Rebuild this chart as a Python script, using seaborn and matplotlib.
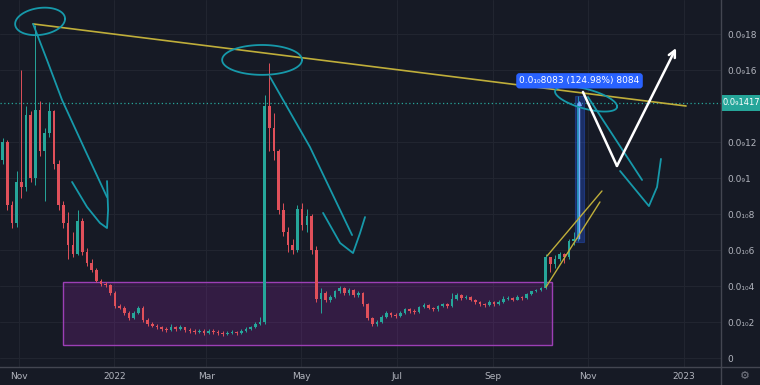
import numpy as np
import pandas as pd
import matplotlib
matplotlib.use("Agg")
import matplotlib.pyplot as plt
import matplotlib.dates as mdates
from matplotlib.lines import Line2D
from matplotlib.patches import Rectangle
import seaborn as sns

# 3-day candles, values in units of 1e-11
start = pd.Timestamp("2021-10-20")
first_open = 11.0
closes = [12.0, 8.5, 7.5, 9.8, 9.5, 13.5, 10.0, 13.8, 11.5, 12.5,
          13.7, 10.8, 8.5, 7.5, 6.3, 5.8, 7.6, 5.9, 5.3, 4.9,
          4.3, 4.1, 4.05, 3.6, 2.9, 2.8, 2.5, 2.2, 2.5, 2.8,
          2.1, 1.9, 1.8, 1.7, 1.6, 1.55, 1.75, 1.6, 1.7, 1.55,
          1.5, 1.45, 1.5, 1.4, 1.5, 1.45, 1.4, 1.35, 1.4, 1.45,
          1.4, 1.5, 1.6, 1.7, 1.9, 2.0, 14.0, 12.8, 11.5, 8.2,
          7.0, 6.3, 6.0, 8.3, 7.4, 7.9, 6.0, 3.3, 3.6, 3.2,
          3.4, 3.7, 3.9, 3.6, 3.8, 3.5, 3.6, 3.0, 2.2, 1.9,
          2.0, 2.3, 2.5, 2.4, 2.35, 2.5, 2.75, 2.6, 2.55, 2.85,
          2.95, 2.8, 2.7, 2.9, 3.0, 2.9, 3.3, 3.5, 3.35, 3.4,
          3.25, 3.1, 3.0, 2.95, 3.1, 3.0, 3.1, 3.3, 3.35, 3.25,
          3.4, 3.35, 3.55, 3.7, 3.8, 3.9, 5.6, 5.2, 5.5, 5.8,
          5.6, 6.5, 6.6, 14.17]
highs = [12.2, 12.1, 8.7, 10.4, 16.0, 14.0, 13.7, 18.5, 14.3, 12.8,
         14.2, 13.8, 11.0, 8.7, 8.1, 7.0, 8.2, 7.8, 6.1, 5.5,
         5.0, 4.4, 4.2, 4.1, 3.7, 3.0, 2.9, 2.6, 2.6, 2.9,
         2.9, 2.2, 2.0, 1.9, 1.8, 1.7, 1.9, 1.8, 1.85, 1.75,
         1.65, 1.6, 1.6, 1.6, 1.6, 1.6, 1.55, 1.5, 1.5, 1.55,
         1.5, 1.6, 1.7, 1.8, 2.0, 2.3, 14.6, 16.4, 13.6, 11.6,
         8.6, 7.3, 6.6, 8.5, 8.6, 8.3, 8.0, 6.2, 3.9, 3.7,
         3.5, 3.8, 4.0, 3.95, 3.9, 3.85, 3.7, 3.65, 3.05, 2.3,
         2.1, 2.4, 2.6, 2.55, 2.5, 2.6, 2.8, 2.8, 2.7, 2.9,
         3.05, 3.0, 2.85, 2.95, 3.05, 3.05, 3.6, 3.6, 3.55, 3.5,
         3.45, 3.3, 3.15, 3.05, 3.2, 3.15, 3.2, 3.45, 3.45, 3.4,
         3.5, 3.45, 3.6, 3.75, 3.85, 3.95, 5.8, 5.6, 5.7, 5.9,
         5.85, 6.6, 7.0, 14.55]
lows = [10.8, 8.2, 7.2, 7.3, 8.9, 9.3, 9.8, 9.6, 11.2, 8.7,
        12.3, 10.5, 8.2, 7.2, 5.5, 5.6, 5.7, 5.7, 5.1, 4.8,
        4.2, 4.0, 3.95, 3.5, 2.8, 2.7, 2.4, 2.1, 2.15, 2.45,
        2.0, 1.8, 1.7, 1.6, 1.5, 1.45, 1.5, 1.5, 1.55, 1.45,
        1.4, 1.35, 1.4, 1.3, 1.35, 1.35, 1.3, 1.25, 1.3, 1.35,
        1.3, 1.35, 1.45, 1.55, 1.65, 1.85, 1.9, 11.5, 11.0, 8.0,
        6.8, 5.9, 5.8, 5.9, 7.1, 7.0, 5.8, 3.1, 2.5, 3.1,
        3.1, 3.35, 3.6, 3.5, 3.5, 3.4, 3.4, 2.9, 2.1, 1.8,
        1.8, 1.95, 2.25, 2.3, 2.25, 2.3, 2.45, 2.5, 2.45, 2.5,
        2.8, 2.7, 2.6, 2.6, 2.85, 2.8, 2.85, 3.25, 3.25, 3.3,
        3.15, 3.0, 2.9, 2.85, 2.9, 2.9, 2.95, 3.05, 3.2, 3.15,
        3.2, 3.25, 3.3, 3.5, 3.65, 3.75, 3.85, 4.8, 5.0, 5.4,
        5.3, 5.5, 6.3, 6.5]

tick_dates = ["2021-11-01", "2022-01-01", "2022-03-01", "2022-05-01",
              "2022-07-01", "2022-09-01", "2022-11-01", "2023-01-01"]
tick_labels = ["Nov", "2022", "Mar", "May", "Jul", "Sep", "Nov", "2023"]
price_ticks = [0, 2, 4, 6, 8, 10, 12, 16, 18]
price_labels = ["0", "0.0\u2081\u20802", "0.0\u2081\u20804", "0.0\u2081\u20806",
                "0.0\u2081\u20808", "0.0\u20891", "0.0\u208912",
                "0.0\u208916", "0.0\u208918"]
last_price = 14.17
last_label = "0.0\u20891417"
measure_label = "0.0\u2081\u20808083 (124.98%) 8084"

# drawings: (days after 2021-11-01, value)
trend_line = [(9.0, 18.56), (427.6, 14.0)]
channel_upper = [(338.5, 5.67), (373.7, 9.28)]
channel_lower = [(337.8, 3.94), (372.4, 8.67)]
purple_box = (28.2, 341.7, 0.72, 4.22)
measure_box = (356.4, 362.2, 6.467, 14.55)
teal_strokes = [
    [(9.0, 18.56), (17.9, 16.56), (27.6, 14.33), (42.3, 11.56), (56.4, 8.94)],
    [(34.0, 9.78), (43.6, 8.39), (51.9, 7.5), (56.4, 7.22), (57.1, 8.22), (56.4, 9.83)],
    [(160.9, 15.61), (186.5, 11.72), (213.5, 6.83)],
    [(194.9, 8.06), (205.8, 6.39), (214.1, 5.83), (218.6, 6.94), (221.8, 7.83)],
    [(364.7, 14.5), (399.4, 9.89)],
    [(385.3, 10.39), (403.8, 8.44), (409.0, 9.5), (411.5, 11.06)],
]
# ellipses: centre day, centre value, half width (days), half height, tilt
teal_loops = [(13.5, 18.7, 16.0, 0.75, 0.009),
              (155.8, 16.56, 25.6, 0.83, 0.0),
              (363.5, 14.39, 19.9, 0.56, -0.021)]
white_path = [(361.5, 14.78), (383.3, 10.67), (421.2, 17.22)]

sns.set_theme(style="dark", rc={
    "figure.facecolor": "#161a25", "axes.facecolor": "#161a25",
    "axes.edgecolor": "#363a45", "grid.color": "#222631",
    "text.color": "#b2b5be", "xtick.color": "#b2b5be", "ytick.color": "#b2b5be"})
plt.rcParams["font.family"] = ["DejaVu Sans"]

base = mdates.date2num(pd.Timestamp("2021-11-01"))
def X(d):
    return base + d

n = len(closes)
df = pd.DataFrame({
    "date": [start + pd.Timedelta(days=3 * i + 1.5) for i in range(n)],
    "open": [first_open] + closes[:-1],
    "close": closes, "high": highs, "low": lows})
df["x"] = mdates.date2num(df["date"])
df["up"] = df["close"] >= df["open"]

fig = plt.figure(figsize=(7.6, 3.85), dpi=100)
ax = fig.add_axes([0, 18 / 385, 721 / 760, 367 / 385])

# purple range box
x0, x1, y0, y1 = purple_box
ax.add_patch(Rectangle((X(x0), y0), x1 - x0, y1 - y0, fc="#9c27b0", alpha=0.22,
                       ec="none", zorder=1))
ax.add_patch(Rectangle((X(x0), y0), x1 - x0, y1 - y0, fc="none", ec="#9c3fb5",
                       lw=1.0, zorder=1))

# candles
green, red = "#26a69a", "#e0505a"
cols = np.where(df["up"], green, red)
ax.vlines(df["x"], df["low"], df["high"], colors=cols, lw=0.7, zorder=3)
body_lo = df[["open", "close"]].min(axis=1)
body_h = (df["close"] - df["open"]).abs().clip(lower=0.06)
ax.bar(df["x"], body_h, bottom=body_lo, width=1.7, color=cols, lw=0, zorder=3)

# last price line
ax.axhline(last_price, color=green, ls=(0, (1, 2)), lw=0.9, zorder=2)

# measure tool
mx0, mx1, my0, my1 = measure_box
ax.add_patch(Rectangle((X(mx0), my0), mx1 - mx0, my1 - my0, fc="#2962ff",
                       alpha=0.3, ec="#2962ff", lw=0.8, zorder=4))
ax.annotate("", xy=(X((mx0 + mx1) / 2), my1 - 0.1), xytext=(X((mx0 + mx1) / 2), my0),
            arrowprops=dict(arrowstyle="-|>", color="#7fa6ff", lw=1.0,
                            mutation_scale=6), zorder=5)
ax.text(X((mx0 + mx1) / 2), my1 + 0.85, measure_label, ha="center", va="center",
        fontsize=6.5, color="white", zorder=8,
        bbox=dict(boxstyle="round,pad=0.35", fc="#2962ff", ec="none"))

# trend and channel lines
for seg, lw in [(trend_line, 1.2), (channel_upper, 1.0), (channel_lower, 1.0)]:
    ax.plot([X(p[0]) for p in seg], [p[1] for p in seg], color="#bfae3a",
            lw=lw, zorder=6, solid_capstyle="round")

# hand drawn strokes
teal = "#1699aa"
for s in teal_strokes:
    ax.plot([X(p[0]) for p in s], [p[1] for p in s], color=teal, lw=1.3,
            zorder=6, solid_capstyle="round", solid_joinstyle="round")
t = np.linspace(0, 2 * np.pi, 90)
for cx, cy, a, b, tilt in teal_loops:
    dx = a * np.cos(t)
    ax.plot(X(cx) + dx, cy + b * np.sin(t) + tilt * dx, color=teal, lw=1.3, zorder=6)

ax.plot([X(p[0]) for p in white_path[:-1]], [p[1] for p in white_path[:-1]],
        color="white", lw=1.8, zorder=7, solid_joinstyle="miter")
ax.annotate("", xy=(X(white_path[-1][0]), white_path[-1][1]),
            xytext=(X(white_path[-2][0]), white_path[-2][1]),
            arrowprops=dict(arrowstyle="->", color="white", lw=1.8,
                            mutation_scale=12, shrinkA=0, shrinkB=0), zorder=7)

# axes
ax.set_xlim(base - 12.2, base + 450)
ax.set_ylim(-0.5, 358 / 18)
ax.set_xticks(mdates.date2num(pd.to_datetime(tick_dates)))
ax.set_xticklabels(tick_labels)
ax.set_yticks(price_ticks)
ax.set_yticklabels(price_labels)
ax.yaxis.tick_right()
ax.tick_params(axis="y", length=0, pad=4.5, labelsize=6.5)
ax.tick_params(axis="x", length=0, pad=3.5, labelsize=6.5)
ax.grid(True, lw=0.7)
sns.despine(ax=ax, left=True, top=True, right=False, bottom=False)
for sp in ["right", "bottom"]:
    ax.spines[sp].set_color("#434651")
    ax.spines[sp].set_linewidth(1.0)

# last price badge on the price scale
trans = ax.get_yaxis_transform()
ax.add_patch(Rectangle((1.002, last_price - 0.42), 0.052, 0.84, transform=trans,
                       fc=green, ec="none", clip_on=False, zorder=9))
ax.text(1.028, last_price, last_label, transform=trans, ha="center", va="center",
        fontsize=6.0, color="white", zorder=10, clip_on=False)

fig.add_artist(Line2D([721 / 760, 721 / 760], [0, 18 / 385], color="#434651", lw=1.0))
fig.add_artist(Line2D([721 / 760, 1], [18 / 385, 18 / 385], color="#434651", lw=1.0))
fig.text(745 / 760, 9 / 385, "\u2699", ha="center", va="center", fontsize=8,
         color="#787b86")

fig.savefig("out.png", dpi=100, facecolor=fig.get_facecolor())
